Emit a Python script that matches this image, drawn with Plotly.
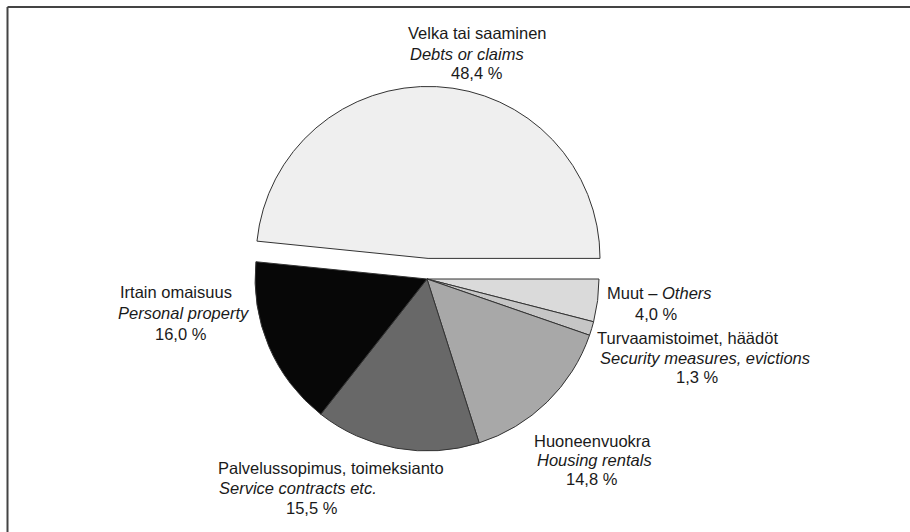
import plotly.graph_objects as go

# Data (clockwise from 3 o'clock)
categories = ["Muut", "Turvaamistoimet, häädöt", "Huoneenvuokra",
              "Palvelussopimus, toimeksianto", "Irtain omaisuus", "Velka tai saaminen"]
categories_en = ["Others", "Security measures, evictions", "Housing rentals",
                 "Service contracts etc.", "Personal property", "Debts or claims"]
shares = [4.0, 1.3, 14.8, 15.5, 16.0, 48.4]

# Styles
colors = ["#dadada", "#c6c6c6", "#a8a8a8", "#686868", "#070707", "#efefef"]
pulls = [0, 0, 0, 0, 0, 0.12]

fig = go.Figure()
fig.add_trace(go.Pie(
    values=shares,
    labels=categories,
    sort=False,
    direction="clockwise",
    rotation=90,
    pull=pulls,
    marker=dict(colors=colors, line=dict(color="#333333", width=1)),
    textinfo="none",
    hoverinfo="label+percent",
    showlegend=False,
    domain=dict(x=[0.2576, 0.6809], y=[0.1135, 0.8376]),
))

def fmt(v):
    return f"{v:.1f}".replace(".", ",") + " %"

# per-line label positions in pixels: (x_center, y_center) for each text line
line_pos = [
    [(659, 293), (656, 314)],                       # Muut
    [(687, 338), (705, 358), (697, 377)],           # Turva
    [(592, 441), (594, 460), (592, 479)],           # Huoneen
    [(331, 468), (298, 488), (312, 508)],           # Palvelus
    [(176, 292), (184, 313), (181, 334)],           # Irtain
    [(477, 33), (467, 54), (477, 73)],              # Velka
]
font = dict(family="Liberation Sans, Arial, sans-serif", size=16.5, color="#1a1a1a")

W, H = 910, 532
for i, (name, en, v) in enumerate(zip(categories, categories_en, shares)):
    if i == 0:
        lines = [f"{name} – <i>{en}</i>", fmt(v)]
    else:
        lines = [name, f"<i>{en}</i>", fmt(v)]
    for txt, (x, y) in zip(lines, line_pos[i]):
        fig.add_annotation(x=x / W, y=1 - y / H, xref="paper", yref="paper",
                           text=txt, showarrow=False, align="center",
                           xanchor="center", yanchor="middle", font=font)

# frame lines (top and left)
fig.add_shape(type="line", xref="paper", yref="paper",
              x0=7.5 / W, y0=0, x1=7.5 / W, y1=1 - 7 / H,
              line=dict(color="#444444", width=2))
fig.add_shape(type="line", xref="paper", yref="paper",
              x0=7.5 / W, y0=1 - 7 / H, x1=1, y1=1 - 7 / H,
              line=dict(color="#444444", width=2))

fig.update_layout(width=W, height=H, margin=dict(l=0, r=0, t=0, b=0),
                  paper_bgcolor="white", plot_bgcolor="white")
fig.write_html("out.html", config={"displayModeBar": False},
               post_script="document.body.style.margin='0';document.body.style.overflow='hidden';")
